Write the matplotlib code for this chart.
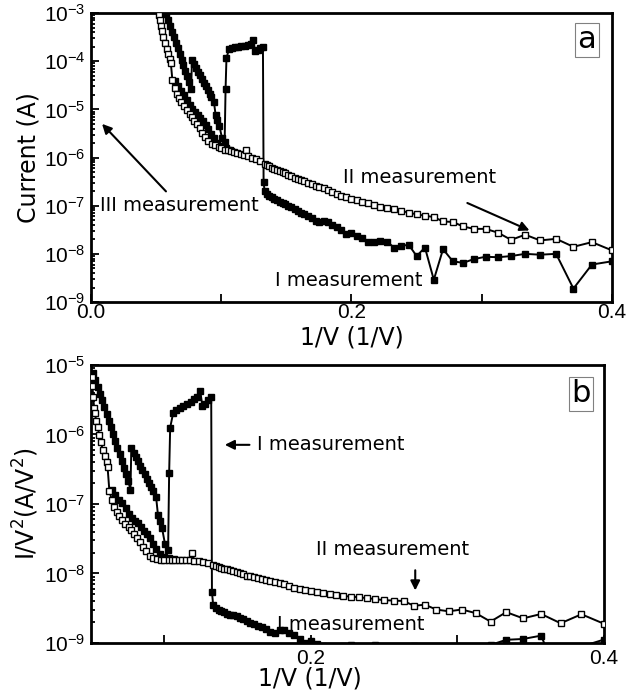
import numpy as np
import matplotlib
matplotlib.use("Agg")
import matplotlib.pyplot as plt
from matplotlib.ticker import MultipleLocator, FormatStrFormatter

# ---- data: current vs 1/V (panel a); panel b shows the same points as I/V^2 ----
# I measurement (filled squares)
x_I = [0.0514, 0.0530, 0.0545, 0.0560, 0.0575, 0.0590, 0.0606, 0.0620, 0.0635, 0.0650,
       0.0665, 0.0680, 0.0695, 0.0710, 0.0725, 0.0740, 0.0755, 0.0769,
       0.0775, 0.0790, 0.0805, 0.0820, 0.0835, 0.0850, 0.0865, 0.0880, 0.0895, 0.0910,
       0.0925, 0.0944, 0.0957, 0.0970, 0.0985, 0.1005, 0.1026,
       0.1033, 0.1040, 0.1060, 0.1080, 0.1105, 0.1130, 0.1155, 0.1180, 0.1205, 0.1225,
       0.1245, 0.1260, 0.1280, 0.1300, 0.1320,
       0.1325, 0.1333, 0.1351, 0.1370, 0.1389, 0.1408, 0.1429, 0.1449, 0.1471, 0.1493,
       0.1515, 0.1538, 0.1563, 0.1587, 0.1613, 0.1639, 0.1667, 0.1695, 0.1724, 0.1754,
       0.1786, 0.1818, 0.1852, 0.1887, 0.1923, 0.1961, 0.2000, 0.2041, 0.2083, 0.2128,
       0.2174, 0.2222, 0.2273, 0.2326, 0.2381, 0.2439, 0.2500, 0.2564, 0.2632, 0.2703,
       0.2778, 0.2857, 0.2941, 0.3030, 0.3125, 0.3226, 0.3333, 0.3448, 0.3571, 0.3704,
       0.3846, 0.4000]
cur_I = [2.9e-3, 2.15e-3, 1.63e-3, 1.23e-3, 9.4e-4, 7.1e-4, 5.3e-4, 4.1e-4, 3.15e-4, 2.4e-4,
         1.84e-4, 1.4e-4, 1.08e-4, 8.3e-5, 6.3e-5, 4.9e-5, 3.7e-5, 2.7e-5,
         1.06e-4, 8.8e-5, 7.3e-5, 6.1e-5, 5.1e-5, 4.3e-5, 3.6e-5, 3.0e-5, 2.5e-5, 2.1e-5,
         1.77e-5, 1.41e-5, 7.5e-6, 6.0e-6, 4.6e-6, 2.6e-6, 2.1e-6,
         2.6e-5, 1.16e-4, 1.8e-4, 1.9e-4, 1.95e-4, 2.0e-4, 2.05e-4, 2.1e-4, 2.2e-4, 2.3e-4,
         2.75e-4, 1.6e-4, 1.7e-4, 1.85e-4, 2.0e-4,
         3.1e-7, 2.0e-7, 1.75e-7, 1.6e-7, 1.5e-7, 1.4e-7, 1.3e-7, 1.22e-7, 1.15e-7, 1.08e-7,
         1.0e-7, 9.3e-8, 8.5e-8, 7.8e-8, 7.2e-8, 6.6e-8, 6.1e-8, 5.5e-8, 4.9e-8, 4.5e-8,
         4.8e-8, 4.6e-8, 4.0e-8, 3.6e-8, 3.1e-8, 2.6e-8, 2.7e-8, 2.3e-8, 2.1e-8, 1.8e-8,
         1.8e-8, 1.85e-8, 1.8e-8, 1.35e-8, 1.45e-8, 1.55e-8, 9.0e-9, 1.35e-8, 2.9e-9, 1.25e-8,
         7.0e-9, 6.5e-9, 7.8e-9, 8.7e-9, 8.5e-9, 9.0e-9, 1.0e-8, 9.6e-9, 1.0e-8, 1.9e-9,
         6.0e-9, 7.0e-9]

# II measurement (open squares)
x_II = [0.0505, 0.0510, 0.0515, 0.0521, 0.0527, 0.0535, 0.0545, 0.0556, 0.0567, 0.0580,
        0.0592, 0.0606, 0.0613, 0.0625, 0.0641, 0.0658, 0.0676, 0.0694, 0.0714, 0.0735,
        0.0758, 0.0775, 0.0794, 0.0813, 0.0833, 0.0855, 0.0877, 0.0901, 0.0926, 0.0952,
        0.0980, 0.1000, 0.1031, 0.1053, 0.1075, 0.1099, 0.1124, 0.1149, 0.1176, 0.1190,
        0.1205, 0.1235, 0.1266, 0.1299,
        0.1333, 0.1351, 0.1370, 0.1389, 0.1408, 0.1429, 0.1449, 0.1471, 0.1493, 0.1515,
        0.1538, 0.1563, 0.1587, 0.1613, 0.1639, 0.1667, 0.1695, 0.1724, 0.1754, 0.1786,
        0.1818, 0.1852, 0.1887, 0.1923, 0.1961, 0.2000, 0.2041, 0.2083, 0.2128, 0.2174,
        0.2222, 0.2273, 0.2326, 0.2381, 0.2439, 0.2500, 0.2564, 0.2632, 0.2703, 0.2778,
        0.2857, 0.2941, 0.3030, 0.3125, 0.3226, 0.3333, 0.3448, 0.3571, 0.3704, 0.3846,
        0.4000]
cur_II = [2.6e-3, 1.9e-3, 1.3e-3, 9.0e-4, 7.3e-4, 5.5e-4, 4.3e-4, 3.2e-4, 2.4e-4, 1.8e-4,
          1.4e-4, 1.1e-4, 9.0e-5, 4.0e-5, 2.8e-5, 2.1e-5, 1.7e-5, 1.4e-5, 1.15e-5, 9.5e-6,
          8.0e-6, 7.1e-6, 5.8e-6, 4.9e-6, 4.1e-6, 3.3e-6, 2.7e-6, 2.2e-6, 1.95e-6, 1.8e-6,
          1.65e-6, 1.55e-6, 1.45e-6, 1.4e-6, 1.35e-6, 1.3e-6, 1.25e-6, 1.2e-6, 1.12e-6, 1.4e-6,
          1.05e-6, 9.8e-7, 9.2e-7, 8.4e-7,
          7.5e-7, 7.0e-7, 6.6e-7, 6.2e-7, 5.9e-7, 5.6e-7, 5.3e-7, 5.0e-7, 4.7e-7, 4.4e-7,
          4.1e-7, 3.8e-7, 3.6e-7, 3.4e-7, 3.2e-7, 3.0e-7, 2.8e-7, 2.6e-7, 2.45e-7, 2.3e-7,
          2.1e-7, 1.9e-7, 1.75e-7, 1.6e-7, 1.5e-7, 1.4e-7, 1.3e-7, 1.2e-7, 1.12e-7, 1.04e-7,
          9.6e-8, 9.0e-8, 8.4e-8, 7.8e-8, 7.2e-8, 6.6e-8, 6.2e-8, 5.8e-8, 4.7e-8, 4.6e-8,
          3.7e-8, 3.3e-8, 3.3e-8, 2.75e-8, 1.95e-8, 2.5e-8, 1.9e-8, 2.05e-8, 1.4e-8, 1.75e-8,
          1.18e-8]

# III measurement (filled squares running along the II curve)
x_III = [0.0645, 0.0667, 0.0690, 0.0714, 0.0737, 0.0758, 0.0778, 0.0800, 0.0820, 0.0840,
         0.0860, 0.0880, 0.0900, 0.0921, 0.0943, 0.0970, 0.1000, 0.1034, 0.1064]
cur_III = [3.8e-5, 3.0e-5, 2.4e-5, 2.0e-5, 1.6e-5, 1.25e-5, 1.04e-5, 8.8e-6, 7.8e-6, 6.6e-6,
           5.6e-6, 4.8e-6, 4.0e-6, 3.1e-6, 2.5e-6, 2.0e-6, 1.75e-6, 1.55e-6, 1.45e-6]

x_I, cur_I = np.array(x_I), np.array(cur_I)
x_II, cur_II = np.array(x_II), np.array(cur_II)
x_III, cur_III = np.array(x_III), np.array(cur_III)

plt.rcParams['font.family'] = 'DejaVu Sans'

fig = plt.figure(figsize=(6.26, 6.93), dpi=100)
ax1 = fig.add_axes([0.1454, 0.5642, 0.8322, 0.4170])
ax2 = fig.add_axes([0.1454, 0.0722, 0.8195, 0.4011])

mk = dict(marker='s', markersize=5, color='black', lw=1.4, mew=1.0)


def draw(ax, yI, yII, yIII):
    ax.plot(x_I, yI, mfc='black', zorder=2, **mk)
    ax.plot(x_III, yIII, mfc='black', zorder=2, **mk)
    ax.plot(x_II, yII, mfc='white', zorder=3, **mk)
    ax.set_yscale('log')
    ax.xaxis.set_major_locator(MultipleLocator(0.2))
    ax.xaxis.set_minor_locator(MultipleLocator(0.1))
    ax.xaxis.set_major_formatter(FormatStrFormatter('%.1f'))
    ax.tick_params(which='both', direction='in', top=False, right=False, width=1.3)
    ax.tick_params(which='major', length=6, labelsize=15, pad=4,
                   labelfontfamily='Liberation Sans')
    ax.tick_params(which='minor', length=3)
    ax.tick_params(axis='x', which='minor', length=6)
    for s in ax.spines.values():
        s.set_linewidth(2)
    ax.set_xlabel('1/V (1/V)', fontsize=17)


# panel a: current
draw(ax1, cur_I, cur_II, cur_III)
ax1.set_xlim(0, 0.4)
ax1.set_ylim(1e-9, 1e-3)
ax1.tick_params(axis='x', which='major', pad=1)
ax1.set_ylabel('Current (A)', fontsize=17, labelpad=2)
ax1.xaxis.set_label_coords(0.5, -0.08)

arrow = dict(arrowstyle='-|>', color='black', lw=1.5, mutation_scale=14)
ax1.annotate('III measurement', xy=(0.007, 5.5e-6), xytext=(0.007, 1.0e-7),
             fontsize=14, va='center', ha='left', arrowprops=arrow)
ax1.annotate('', xy=(0.3386, 2.9e-8), xytext=(0.287, 1.2e-7), arrowprops=arrow)
ax1.text(0.2526, 3.8e-7, 'II measurement', fontsize=14, ha='center', va='center')
ax1.text(0.198, 2.8e-9, 'I measurement', fontsize=14, ha='center', va='center')
ax1.text(0.952, 0.907, 'a', transform=ax1.transAxes, fontsize=22, ha='center', va='center',
         bbox=dict(boxstyle='square,pad=0.08', fc='white', ec='gray', lw=0.8))

# panel b: I/V^2 = I * (1/V)^2
draw(ax2, cur_I * x_I ** 2, cur_II * x_II ** 2, cur_III * x_III ** 2)
ax2.set_xlim(0.05, 0.4)
ax2.set_ylim(1e-9, 1e-5)
ax2.set_ylabel(r'I/V$^2$(A/V$^2$)', fontsize=17, labelpad=2)
ax2.xaxis.set_label_coords(0.427, -0.085)

ax2.annotate('', xy=(0.1394, 7.1e-7), xytext=(0.160, 7.1e-7), arrowprops=arrow)
ax2.text(0.1633, 7.1e-7, 'I measurement', fontsize=14, ha='left', va='center')
ax2.annotate('', xy=(0.2712, 5.2e-9), xytext=(0.2712, 1.22e-8), arrowprops=arrow)
ax2.text(0.2555, 2.2e-8, 'II measurement', fontsize=14, ha='center', va='center')
ax2.text(0.2275, 1.86e-9, 'I measurement', fontsize=14, ha='center', va='center')
ax2.text(0.955, 0.896, 'b', transform=ax2.transAxes, fontsize=22, ha='center', va='center',
         bbox=dict(boxstyle='square,pad=0.08', fc='white', ec='gray', lw=0.8))

fig.savefig('out.png', dpi=100)
